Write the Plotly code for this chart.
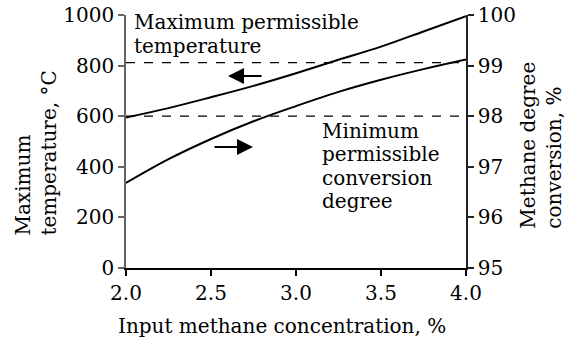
import plotly.graph_objects as go

conc = [2.0, 2.25, 2.5, 2.75, 3.0, 3.25, 3.5, 3.75, 4.0]
temperature = [595, 632, 675, 720, 770, 823, 875, 935, 995]
conversion = [96.68, 97.15, 97.55, 97.9, 98.2, 98.48, 98.72, 98.93, 99.12]
max_temp_limit = 812
min_conv_limit = 98.0

x_ticks = [2.0, 2.5, 3.0, 3.5, 4.0]
y_ticks = [0, 200, 400, 600, 800, 1000]
y2_ticks = [95, 96, 97, 98, 99, 100]

max_label_lines = ["Maximum permissible", "temperature"]
min_label_lines = ["Minimum", "permissible", "conversion", "degree"]

FONT = "DejaVu Serif"
fs = 20
tfont = dict(family=FONT, size=fs, color="black")

fig = go.Figure()
fig.add_trace(go.Scatter(x=conc, y=temperature, mode="lines", line=dict(color="black", width=2, shape="spline"),
                         yaxis="y", showlegend=False, hoverinfo="skip"))
fig.add_trace(go.Scatter(x=conc, y=conversion, mode="lines", line=dict(color="black", width=2, shape="spline"),
                         yaxis="y2", showlegend=False, hoverinfo="skip"))
fig.add_trace(go.Scatter(x=[conc[0], conc[-1]], y=[max_temp_limit, max_temp_limit], mode="lines",
                         line=dict(color="black", width=1.3, dash="dash"), yaxis="y", showlegend=False, hoverinfo="skip"))
fig.add_trace(go.Scatter(x=[conc[0], conc[-1]], y=[min_conv_limit, min_conv_limit], mode="lines",
                         line=dict(color="black", width=1.3, dash="dash"), yaxis="y2", showlegend=False, hoverinfo="skip"))

for txt, yp in zip(max_label_lines, [0.972, 0.877]):
    fig.add_annotation(x=2.035, y=yp, xref="x", yref="paper", text=txt,
                       showarrow=False, xanchor="left", yanchor="middle", font=tfont)
for txt, yp in zip(min_label_lines, [0.5415, 0.4506, 0.3557, 0.2648]):
    fig.add_annotation(x=3.14, y=yp, xref="x", yref="paper", text=txt,
                       showarrow=False, xanchor="left", yanchor="middle", font=tfont)
# arrows
fig.add_annotation(x=2.6, y=759, ax=2.806, ay=759, xref="x", yref="y", axref="x", ayref="y",
                   text="", showarrow=True, arrowhead=2, arrowsize=1.6, arrowwidth=2, arrowcolor="black")
fig.add_annotation(x=2.747, y=97.39, ax=2.512, ay=97.39, xref="x", yref="y2", axref="x", ayref="y2",
                   text="", showarrow=True, arrowhead=2, arrowsize=1.6, arrowwidth=2, arrowcolor="black")
# axis titles
fig.add_annotation(x=-0.265, y=0.122, xref="paper", yref="paper", text="Maximum<br>temperature, °C",
                   textangle=-90, showarrow=False, xanchor="center", yanchor="bottom", align="left", font=tfont)
fig.add_annotation(x=1.218, y=0.146, xref="paper", yref="paper", text="Methane degree<br>conversion, %",
                   textangle=-90, showarrow=False, xanchor="center", yanchor="bottom", align="left", font=tfont)
fig.add_annotation(x=0.4588, y=-0.229, xref="paper", yref="paper", text="Input methane concentration, %",
                   showarrow=False, xanchor="center", yanchor="middle", font=tfont)

axis_common = dict(showgrid=False, zeroline=False, ticks="outside", ticklen=6, tickwidth=1.5,
                   showline=True, linewidth=1.5, automargin=False, tickfont=tfont)

fig.update_layout(
    width=570, height=341,
    margin=dict(l=126, r=104, t=15, b=73),
    plot_bgcolor="white", paper_bgcolor="white",
    hovermode=False,
    xaxis=dict(range=[2.0, 4.0], tickvals=x_ticks, ticktext=[f"{v:.1f}" for v in x_ticks],
               linecolor="black", tickcolor="black", **axis_common),
    yaxis=dict(range=[0, 1000], tickvals=y_ticks, linecolor="#666", tickcolor="#666", **axis_common),
    yaxis2=dict(range=[95, 100], tickvals=y2_ticks, overlaying="y", side="right",
                linecolor="#222", tickcolor="#222", **axis_common),
)

# remove the page's default body margin so the figure sits at the window origin
fig.write_html("out.html", config={"displayModeBar": False},
               post_script="document.body.style.margin='0';")
